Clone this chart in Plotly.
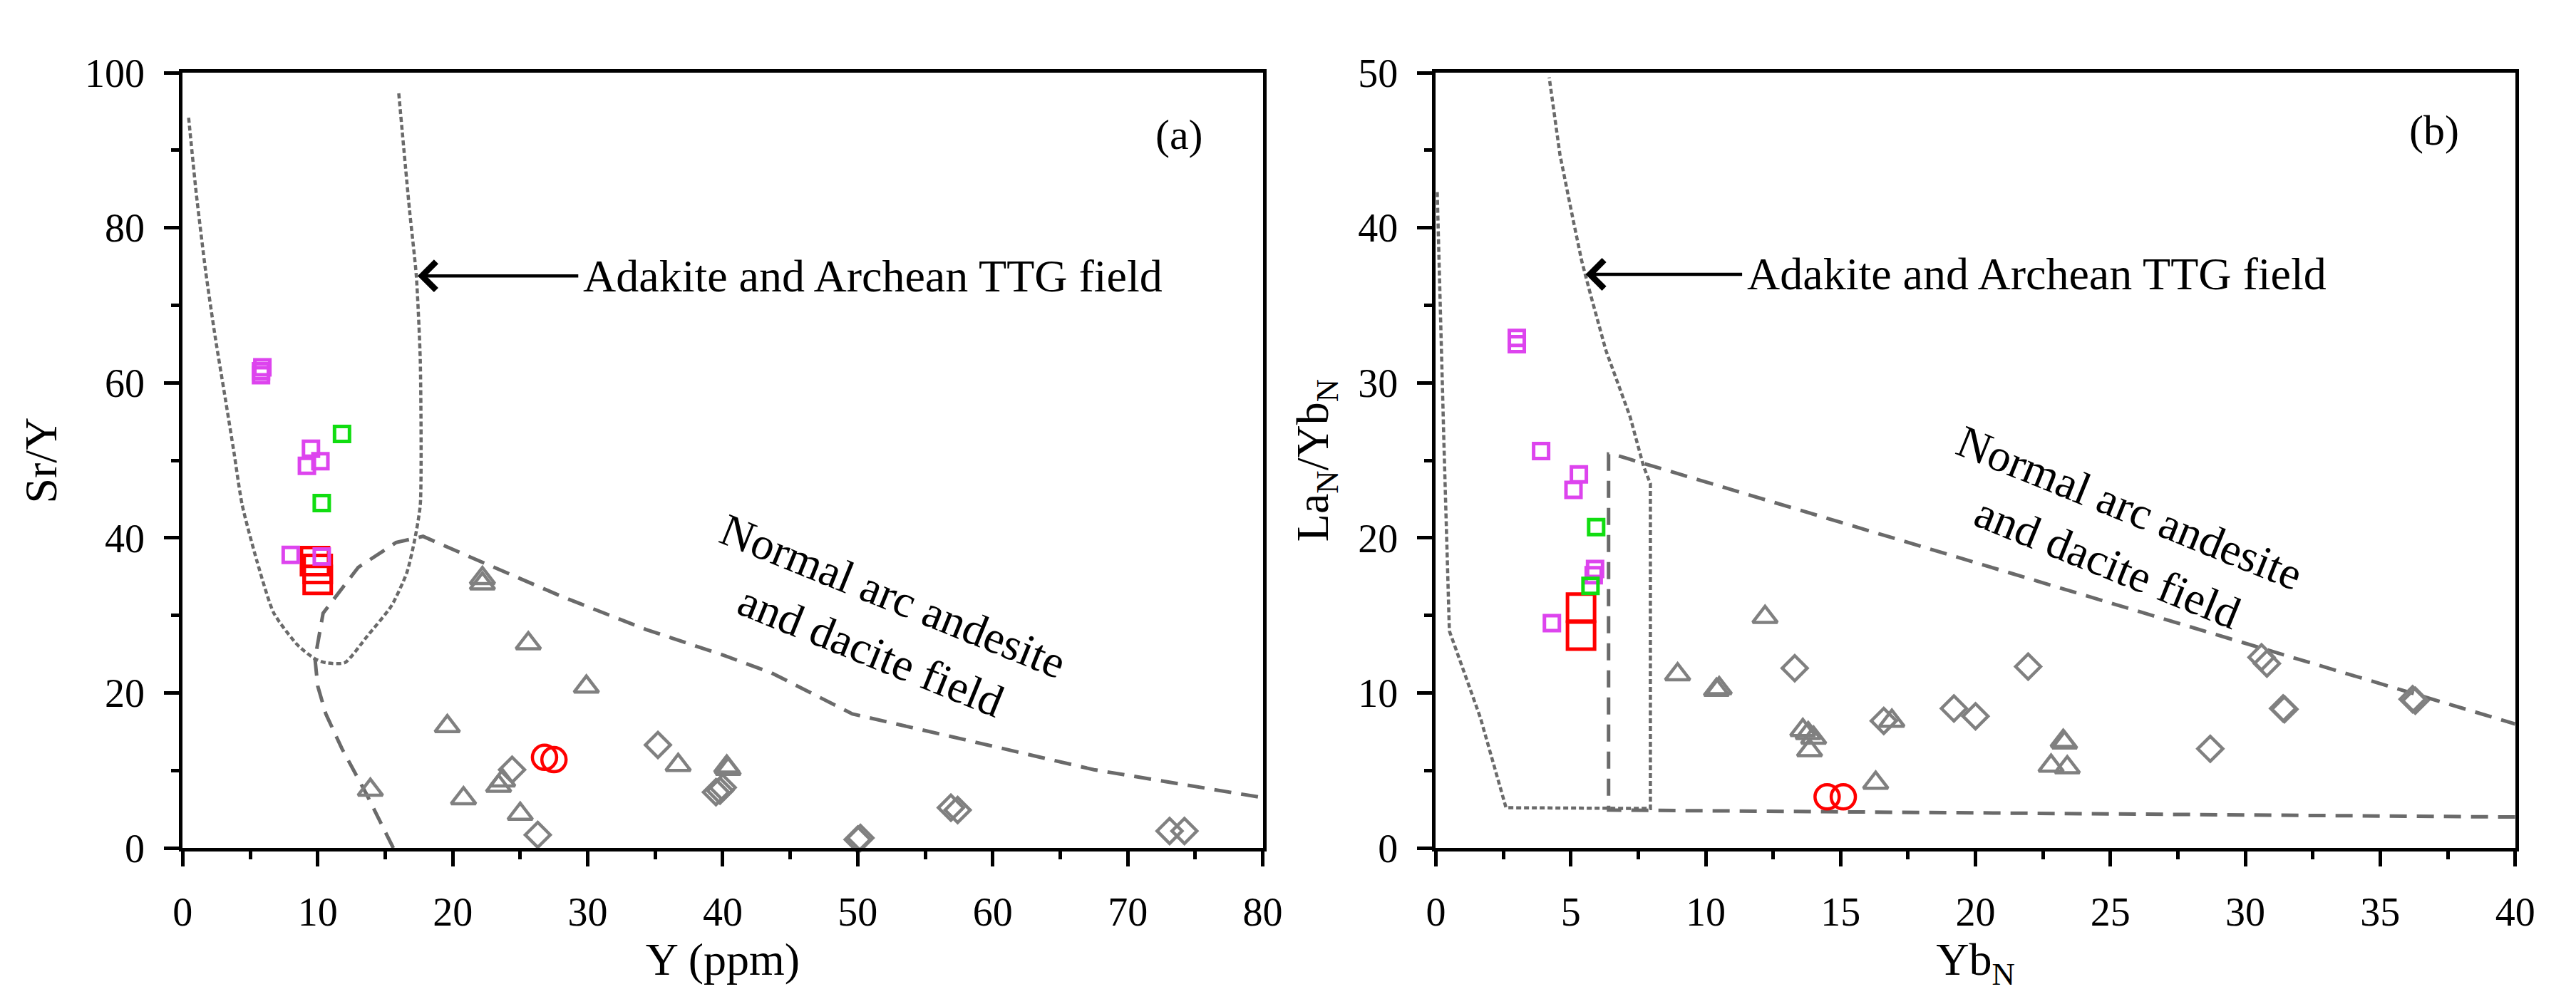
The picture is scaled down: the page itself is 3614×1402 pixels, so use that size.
import plotly.graph_objects as go

# ---------------- panel (a): Sr/Y vs Y (ppm) ----------------
a_magenta_x = [5.8, 5.8, 5.9, 9.5, 10.2, 9.2, 8.0, 10.3]
a_magenta_y = [61.0, 61.5, 62.0, 51.5, 49.9, 49.3, 37.8, 37.6]
a_green_x = [11.8, 10.3]
a_green_y = [53.4, 44.5]
a_redsq_x = [9.8, 10.0, 10.0]
a_redsq_y = [37.0, 36.0, 34.6]
a_redci_x = [26.8, 27.5]
a_redci_y = [11.7, 11.4]
a_tri_x = [22.2, 22.2, 25.6, 29.9, 19.6, 13.9, 20.8, 23.4, 23.7, 25.0, 36.7, 40.3, 40.4]
a_tri_y = [34.8, 34.1, 26.4, 20.8, 15.7, 7.5, 6.4, 8.0, 8.7, 4.4, 10.7, 10.5, 10.2]
a_dia_x = [24.4, 26.3, 35.2, 39.5, 40.0, 39.8, 50.0, 50.2, 56.9, 57.4, 73.1, 74.2]
a_dia_y = [10.1, 1.7, 13.3, 7.2, 7.8, 7.4, 1.1, 1.3, 5.2, 4.9, 2.2, 2.2]

# adakite field boundary (dotted) and normal arc field boundary (dashed)
a_adakite_x = [0.44, 1.0, 1.7, 2.4, 3.19, 3.8, 4.4, 5.5, 6.75, 8.5, 9.8, 10.6, 12.0,
               13.7, 15.45, 16.6, 17.2, 17.6, 17.6, 17.3, 16.8, 16.0]
a_adakite_y = [94.2, 84.5, 74.4, 66.0, 57.6, 51.0, 44.3, 37.0, 30.3, 26.2, 24.4, 23.9, 23.9,
               27.4, 31.2, 35.5, 39.9, 44.3, 62.7, 73.9, 82.3, 97.4]
a_arc_x = [15.6, 13.6, 11.8, 10.6, 10.0, 9.8, 10.4, 13.0, 15.8, 17.8, 22.0, 28.0,
           34.3, 40.0, 43.6, 49.6, 58.6, 67.5, 80.0]
a_arc_y = [0.0, 7.0, 12.8, 17.3, 20.9, 24.4, 30.3, 36.2, 39.4, 40.2, 37.0, 32.5,
           28.2, 24.9, 22.6, 17.3, 13.7, 10.1, 6.5]

# ---------------- panel (b): LaN/YbN vs YbN ----------------
b_magenta_x = [3.0, 3.0, 3.9, 5.3, 5.1, 5.85, 5.9, 4.3]
b_magenta_y = [32.5, 32.9, 25.6, 24.1, 23.1, 17.6, 18.0, 14.5]
b_green_x = [5.94, 5.73]
b_green_y = [20.7, 16.9]
b_redsq_x = [5.38, 5.38]
b_redsq_y = [15.5, 13.7]
b_redci_x = [14.5, 15.1]
b_redci_y = [3.3, 3.3]
b_tri_x = [8.96, 10.4, 10.5, 12.2, 13.6, 13.8, 14.0, 13.85, 16.3, 16.9, 23.25, 23.3, 22.8, 23.4]
b_tri_y = [11.2, 10.2, 10.3, 14.9, 7.6, 7.4, 7.1, 6.3, 4.2, 8.2, 6.9, 6.8, 5.3, 5.2]
b_dia_x = [13.3, 16.6, 19.2, 20.0, 21.95, 28.7, 30.6, 30.8, 31.4, 31.45, 36.2, 36.3]
b_dia_y = [11.6, 8.2, 9.0, 8.5, 11.7, 6.4, 12.3, 11.9, 9.0, 8.95, 9.6, 9.5]

b_adakite_x = [0.05, 0.15, 0.3, 0.4, 0.5, 0.85, 1.65, 2.6, 7.95, 7.95, 7.7, 7.2,
               6.3, 5.7, 5.4, 5.1, 4.6, 4.2]
b_adakite_y = [42.3, 35.0, 26.0, 20.0, 14.0, 12.3, 8.4, 2.6, 2.55, 23.5, 24.6, 27.8,
               32.1, 35.9, 37.9, 40.4, 44.7, 49.7]
b_arc_x = [40.0, 6.4, 6.4, 6.75, 40.0]
b_arc_y = [2.0, 2.45, 25.4, 25.3, 8.0]

FONT = "Liberation Serif"
GRAY = "#808080"
LINE_GRAY = "#6a6a6a"
MAGENTA = "#DD44EE"
GREEN = "#11DD11"
RED = "#FF0000"

fig = go.Figure()


def add_panel(xa, ya, adak_x, adak_y, arc_x, arc_y, tri_x, tri_y, dia_x, dia_y,
              mag_x, mag_y, grn_x, grn_y, rsq_x, rsq_y, rci_x, rci_y, smooth):
    fig.add_trace(go.Scatter(x=adak_x, y=adak_y, mode="lines", xaxis=xa, yaxis=ya,
                             line=dict(color=LINE_GRAY, width=4.5, dash="7px,4px",
                                       shape="spline" if smooth else "linear",
                                       smoothing=0.6)))
    fig.add_trace(go.Scatter(x=arc_x, y=arc_y, mode="lines", xaxis=xa, yaxis=ya,
                             line=dict(color=LINE_GRAY, width=5, dash="24px,14px")))
    markers = [
        (tri_x, tri_y, "triangle-up-open", GRAY, 30, 4.5),
        (dia_x, dia_y, "diamond-open", GRAY, 27, 4.5),
        (rci_x, rci_y, "circle-open", RED, 34, 4.5),
        (rsq_x, rsq_y, "square-open", RED, 38, 5),
        (mag_x, mag_y, "square-open", MAGENTA, 21, 5),
        (grn_x, grn_y, "square-open", GREEN, 21, 5),
    ]
    for mx, my, sym, col, size, lw in markers:
        fig.add_trace(go.Scatter(x=mx, y=my, mode="markers", xaxis=xa, yaxis=ya,
                                 cliponaxis=False,
                                 marker=dict(symbol=sym, color=col, size=size,
                                             line=dict(width=lw, color=col))))


add_panel("x", "y", a_adakite_x, a_adakite_y, a_arc_x, a_arc_y, a_tri_x, a_tri_y,
          a_dia_x, a_dia_y, a_magenta_x, a_magenta_y, a_green_x, a_green_y,
          a_redsq_x, a_redsq_y, a_redci_x, a_redci_y, True)
add_panel("x2", "y2", b_adakite_x, b_adakite_y, b_arc_x, b_arc_y, b_tri_x, b_tri_y,
          b_dia_x, b_dia_y, b_magenta_x, b_magenta_y, b_green_x, b_green_y,
          b_redsq_x, b_redsq_y, b_redci_x, b_redci_y, False)


def axis_style(rng, dtick, minor, domain, title, standoff, anchor):
    return dict(
        range=rng, dtick=dtick, tick0=0, domain=domain, anchor=anchor,
        showline=True, linewidth=5, linecolor="black", mirror=True,
        ticks="outside", ticklen=21, tickwidth=5, tickcolor="black",
        minor=dict(ticks="outside", ticklen=11, tickwidth=5, tickcolor="black", dtick=minor),
        showgrid=False, zeroline=False, fixedrange=True,
        tickfont=dict(family=FONT, size=56, color="black"),
        ticklabelstandoff=16,
        title=dict(text=title, font=dict(family=FONT, size=64, color="black"),
                   standoff=standoff),
    )


ydom = [0.1402, 0.9522]
fig.update_layout(
    width=3614, height=1402,
    margin=dict(l=0, r=0, t=0, b=0),
    plot_bgcolor="white", paper_bgcolor="white",
    showlegend=False,
    xaxis=axis_style([0, 80], 10, 5, [0.0656, 0.4898], "Y (ppm)", 14, "y"),
    yaxis=axis_style([0, 100], 20, 10, ydom, "Sr/Y", 20, "x"),
    xaxis2=axis_style([0, 40], 5, 2.5, [0.5578, 0.9817], "Yb<sub>N</sub>", 14, "y2"),
    yaxis2=axis_style([0, 50], 10, 5, ydom, "La<sub>N</sub>/Yb<sub>N</sub>", 22, "x2"),
)

txt = dict(family=FONT, size=64, color="black")
ttg = "Adakite and Archean TTG field"
arc = "Normal arc andesite<br>and dacite field"
annotations = [
    # panel (a)
    dict(x=73.8, y=92.0, xref="x", yref="y", text="(a)", showarrow=False,
         font=dict(family=FONT, size=60, color="black")),
    dict(x=17.4, y=73.8, xref="x", yref="y", ax=29.3, ay=73.8, axref="x", ayref="y",
         text=ttg, xanchor="left", borderpad=6, font=txt,
         showarrow=True, arrowhead=4, arrowsize=1.7, arrowwidth=4.5, arrowcolor="black"),
    dict(x=51.8, y=29.0, xref="x", yref="y", text=arc,
         textangle=22, showarrow=False, font=txt),
    # panel (b)
    dict(x=37.0, y=46.3, xref="x2", yref="y2", text="(b)", showarrow=False,
         font=dict(family=FONT, size=60, color="black")),
    dict(x=5.55, y=37.0, xref="x2", yref="y2", ax=11.35, ay=37.0, axref="x2", ayref="y2",
         text=ttg, xanchor="left", borderpad=6, font=txt,
         showarrow=True, arrowhead=4, arrowsize=1.7, arrowwidth=4.5, arrowcolor="black"),
    dict(x=25.3, y=20.2, xref="x2", yref="y2", text=arc,
         textangle=22, showarrow=False, font=txt),
]
fig.update_layout(annotations=annotations)

fig.write_html("out.html")
